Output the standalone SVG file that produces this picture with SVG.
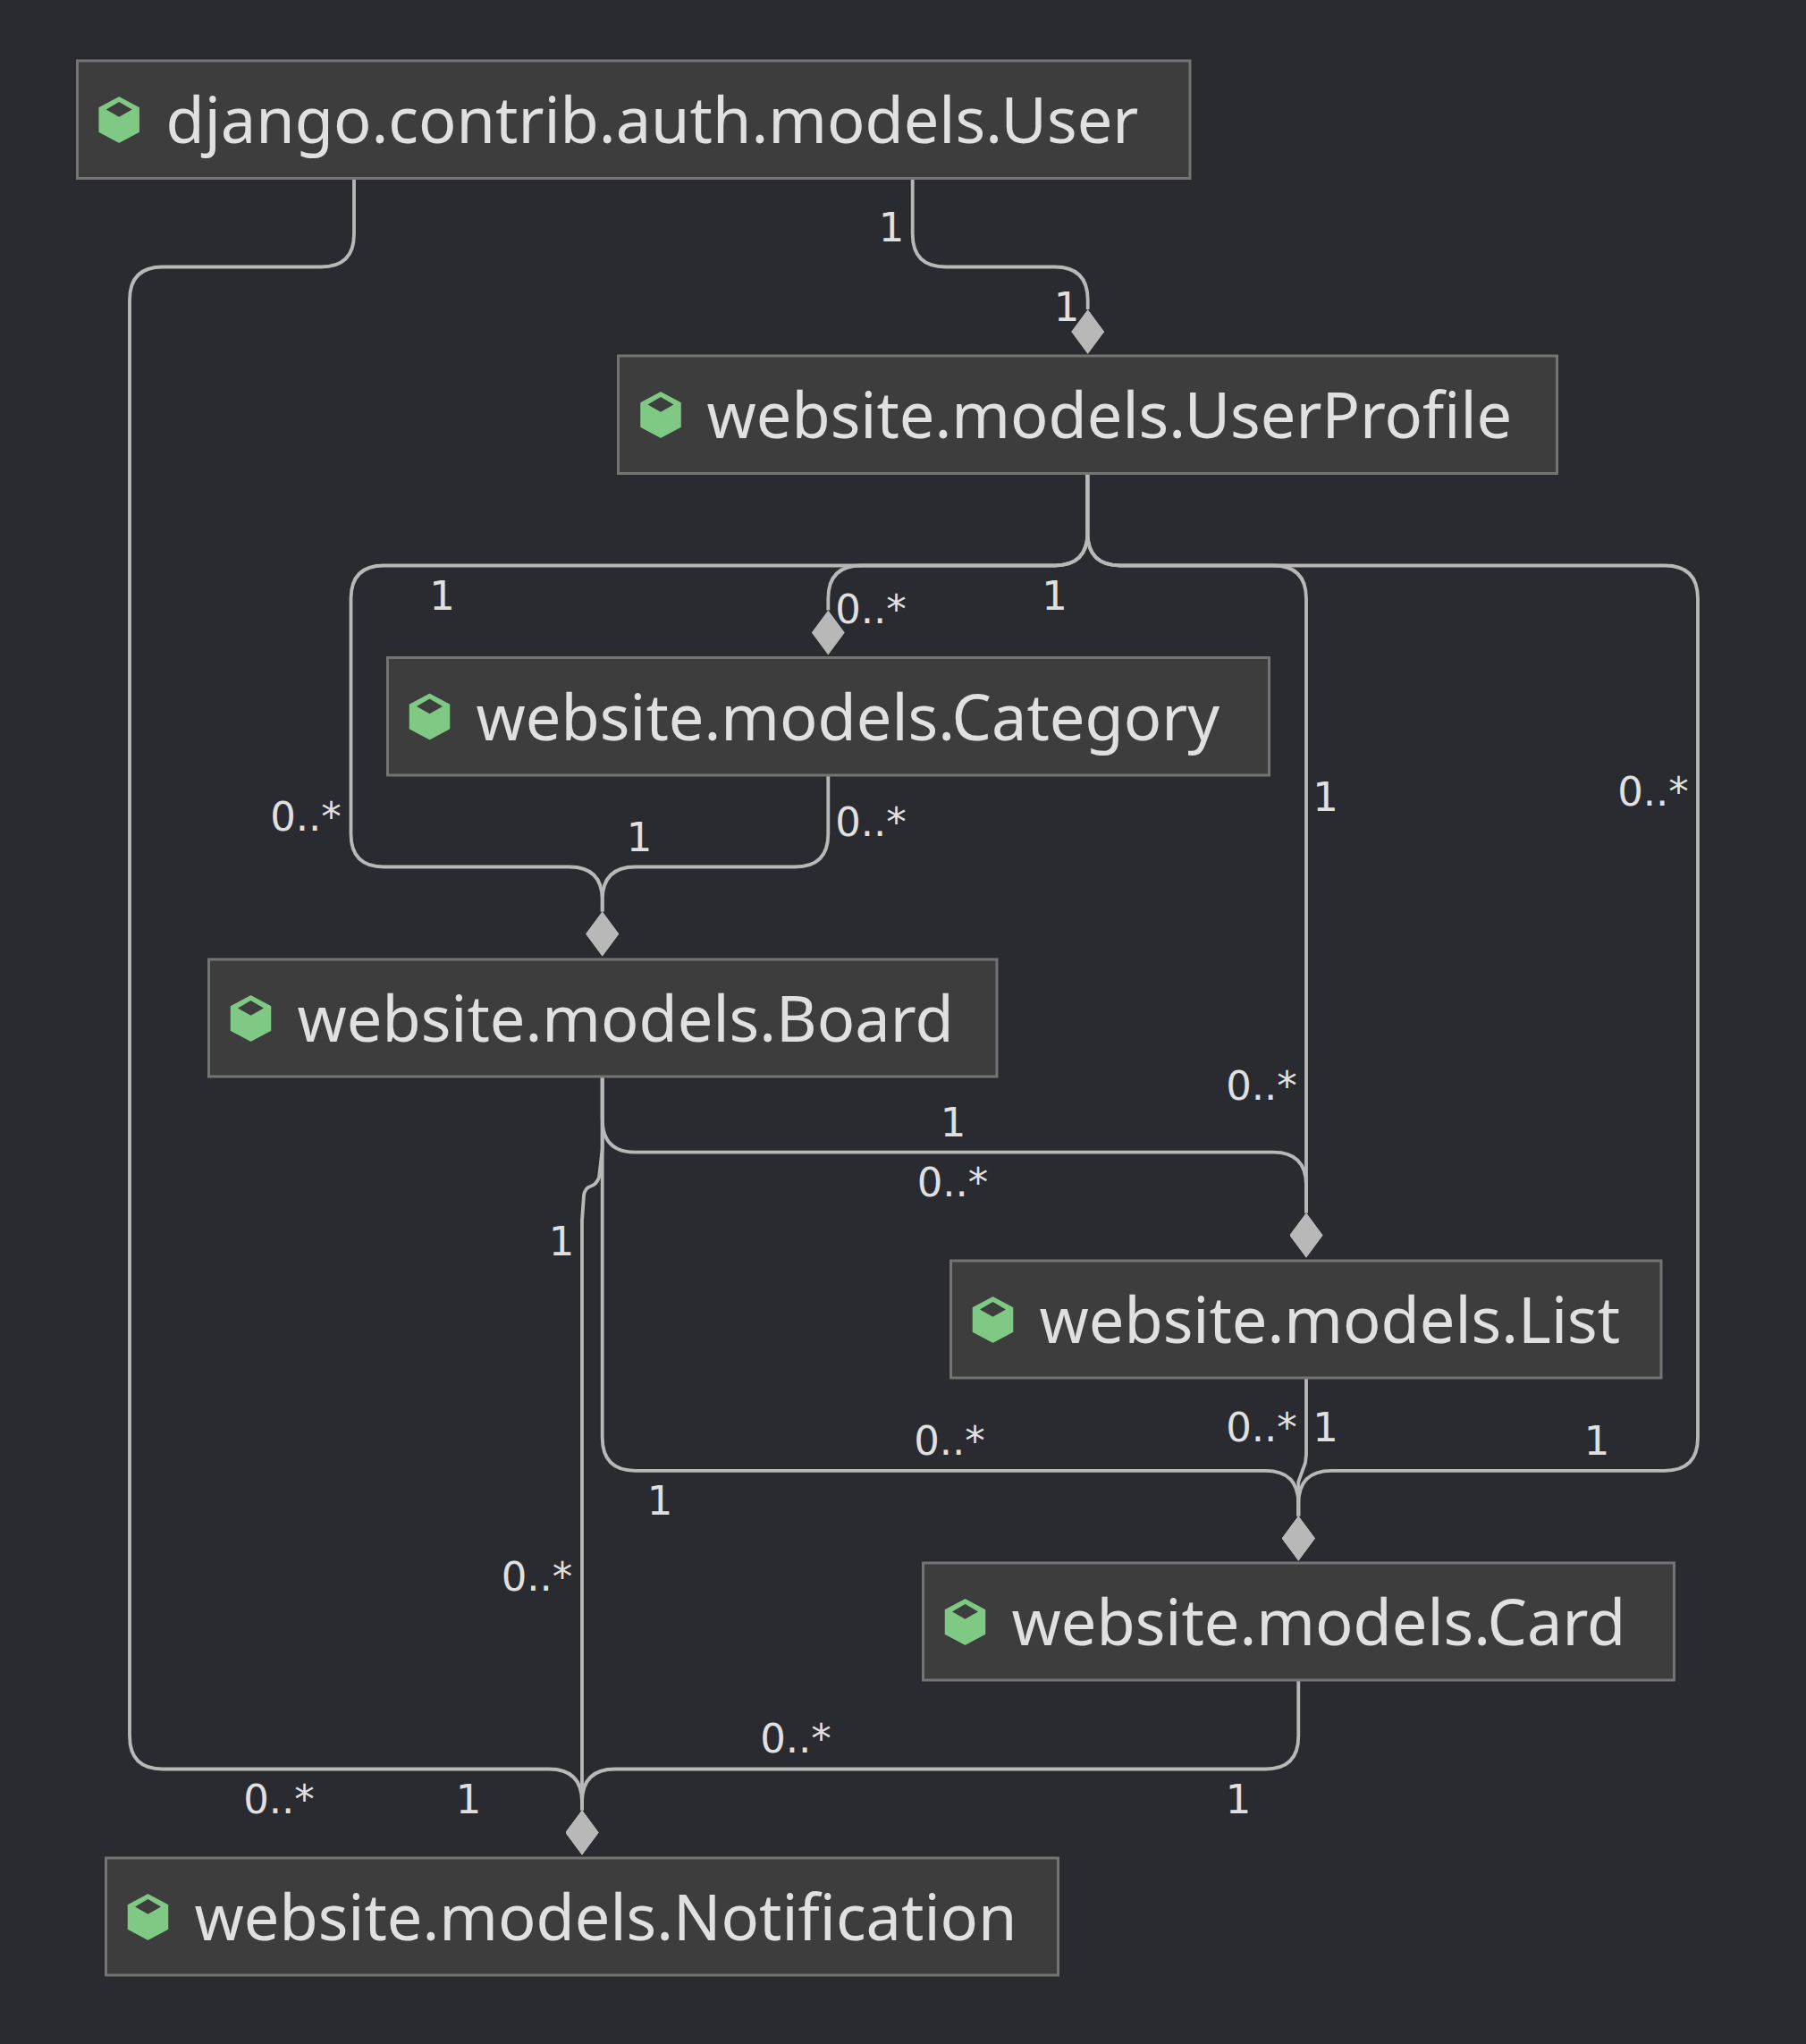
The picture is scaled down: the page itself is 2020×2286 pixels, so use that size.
<svg xmlns="http://www.w3.org/2000/svg" width="2020" height="2286" viewBox="0 0 2020 2286">
<style>
.box{fill:#3d3d3d;stroke:#747474;stroke-width:3}
.t{font-family:"Noto Sans","Open Sans",sans-serif;font-size:70.300px;fill:#e0e0e0}
.l{font-family:"DejaVu Sans",sans-serif;font-size:45px;fill:#e0e0e0;text-anchor:middle}
.e{fill:none;stroke:#b8b8b8;stroke-width:3.800;marker-end:url(#d)}
</style>
<defs>
<marker id="d" markerUnits="userSpaceOnUse" viewBox="0 0 37 50" refX="18.5" refY="0" markerWidth="37" markerHeight="50" orient="0"><path d="M18.5 0L37 25L18.5 50L0 25Z" fill="#b8b8b8"/></marker>
<g id="ico"><path d="M0-25L22-13.4V13.4L0 25L-22 13.4V-13.4Z" fill="#7fc985" stroke="#7fc985" stroke-width="1.500" stroke-linejoin="round"/><path d="M0-20L14.5-11.600L0-3.300L-14.500-11.600Z" fill="#3d3d3d"/></g>
</defs>
<rect width="2020" height="2286" fill="#2a2b30"/>
<g id="connectors">
<path class="e" d="M396 201V261.500Q396 298.500 359 298.500H182Q145 298.500 145 335.500V1941.500Q145 1978.500 182 1978.500H614Q651 1978.500 651 2015.500V2024.500"/>
<path class="e" d="M1020.7 201V261.500Q1020.7 298.500 1057.7 298.500H1179.7Q1216.7 298.500 1216.7 335.500V346"/>
<path class="e" d="M1216.4 530V595.500Q1216.4 632.500 1179.4 632.500H963.3Q926.3 632.500 926.3 669.500V682.500"/>
<path class="e" d="M1216.4 530V595.500Q1216.4 632.500 1179.4 632.500H429.5Q392.500 632.500 392.500 669.500V932.500Q392.500 969.500 429.5 969.500H636.700Q673.700 969.500 673.700 1006.500V1019.500"/>
<path class="e" d="M926.3 868V932.500Q926.3 969.500 889.3 969.500H710.700Q673.700 969.500 673.700 1006.500V1019.500"/>
<path class="e" d="M1216.4 530V595.500Q1216.4 632.500 1253.4 632.500H1424Q1461 632.500 1461 669.500V1356.500"/>
<path class="e" d="M1216.4 530V595.500Q1216.4 632.500 1253.4 632.500H1862Q1899 632.500 1899 669.500V1607.800Q1899 1644.800 1862 1644.800H1489.3Q1452.3 1644.800 1452.3 1681.800V1695.500"/>
<path class="e" d="M673.700 1205V1251.500Q673.700 1288.700 710.700 1288.700H1424Q1461 1288.700 1461 1325.700V1356.500"/>
<path class="e" d="M673.700 1205V1285L670 1317Q667 1325 660 1327Q654 1329 653 1337L651 1365V2024.500"/>
<path class="e" d="M673.700 1205V1607.800Q673.700 1644.800 710.700 1644.800H1415.3Q1452.3 1644.800 1452.3 1681.800V1695.500"/>
<path class="e" d="M1461 1542V1627L1460 1636L1452.3 1657V1695.500"/>
<path class="e" d="M1452.3 1880V1941.500Q1452.3 1978.500 1415.3 1978.500H688Q651 1978.500 651 2015.500V2024.500"/>
</g>
<g id="user"><rect class="box" x="86.5" y="68" width="1244.5" height="131.5"/><use href="#ico" x="133.200" y="134"/><text class="t" x="185.500" y="160">django.contrib.auth.models.User</text></g>
<g id="userprofile"><rect class="box" x="691.500" y="398" width="1050" height="131.500"/><use href="#ico" x="739" y="464"/><text class="t" x="790.500" y="490">website.models.UserProfile</text></g>
<g id="category"><rect class="box" x="433.500" y="735.500" width="986" height="131.500"/><use href="#ico" x="480.500" y="801.500"/><text class="t" x="532.500" y="827.500">website.models.Category</text></g>
<g id="board"><rect class="box" x="233.500" y="1073" width="881.500" height="131"/><use href="#ico" x="280.500" y="1139"/><text class="t" x="332.500" y="1165">website.models.Board</text></g>
<g id="list"><rect class="box" x="1063.5" y="1410" width="794.500" height="131"/><use href="#ico" x="1110.500" y="1476"/><text class="t" x="1162.500" y="1502">website.models.List</text></g>
<g id="card"><rect class="box" x="1032.500" y="1748" width="840" height="131"/><use href="#ico" x="1079.500" y="1814"/><text class="t" x="1131.500" y="1840">website.models.Card</text></g>
<g id="notification"><rect class="box" x="118.500" y="2078" width="1065" height="131"/><use href="#ico" x="165.500" y="2144"/><text class="t" x="217.500" y="2170">website.models.Notification</text></g>
<g id="labels">
<text class="l" x="997" y="270">1</text>
<text class="l" x="1193" y="359">1</text>
<text class="l" x="494.500" y="682">1</text>
<text class="l" x="974" y="697">0..*</text>
<text class="l" x="1179.500" y="682">1</text>
<text class="l" x="342" y="929">0..*</text>
<text class="l" x="715" y="952">1</text>
<text class="l" x="974" y="935">0..*</text>
<text class="l" x="1482.500" y="907">1</text>
<text class="l" x="1849" y="901">0..*</text>
<text class="l" x="1411" y="1230">0..*</text>
<text class="l" x="1066" y="1271">1</text>
<text class="l" x="1065.500" y="1338">0..*</text>
<text class="l" x="628" y="1404">1</text>
<text class="l" x="1411" y="1612">0..*</text>
<text class="l" x="1482.500" y="1612">1</text>
<text class="l" x="1062" y="1627">0..*</text>
<text class="l" x="1786" y="1627">1</text>
<text class="l" x="738" y="1694">1</text>
<text class="l" x="600.500" y="1779">0..*</text>
<text class="l" x="890" y="1960">0..*</text>
<text class="l" x="312" y="2028">0..*</text>
<text class="l" x="524" y="2028">1</text>
<text class="l" x="1385" y="2028">1</text>
</g>
</svg>
